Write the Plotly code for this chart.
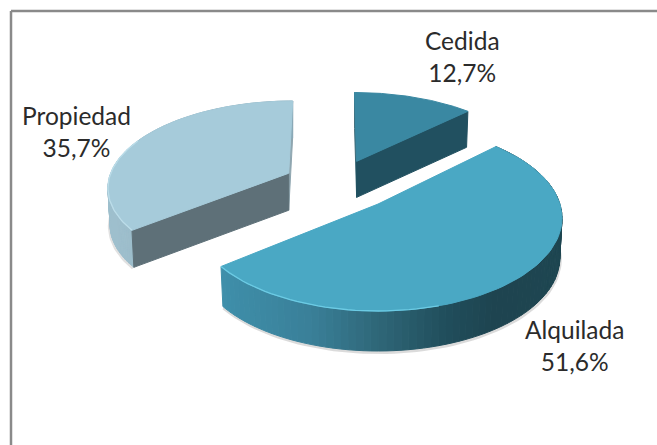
import math
import plotly.graph_objects as go

# ---- data ----
categories = ["Cedida", "Alquilada", "Propiedad"]
shares = [12.7, 51.6, 35.7]

# ---- appearance (per slice, same order as the data) ----
top_colors = ["#3A88A2", "#4AA8C4", "#A6CBDA"]
face_colors = ["#215060", None, "#5E7078"]
wall_stops = [None,
              [(0.0, "#3F8FAA"), (0.25, "#3A8099"), (0.45, "#2F6778"), (0.65, "#214E5C"), (0.8, "#1E4450"), (1.0, "#1F4752")],
              [(0.0, "#9FC0CE"), (1.0, "#8AAAB8")]]
rim_colors = [None, "#6CCBE4", "#BCDDE9"]
ell_cx = [357, 378, 288]
ell_cy = [173.5, 218, 186]
ell_a = [176, 184, 180]
ell_b = [81, 93, 85]
tilt = [-0.15, -0.15, -0.15]     # perspective displacement of the pie centre
lean = [0.03, 0.0, -0.055]
depth = [36, 40, 37]
foot_scale = 0.988
label_pos = [(462, 56), (574, 345), (76, 131)]

W, H = 657, 445
fig = go.Figure()


def hex_rgb(c):
    return tuple(int(c[i:i + 2], 16) for i in (1, 3, 5))


def mix(stops, t):
    t = max(0, min(1, t))
    for (t0, c0), (t1, c1) in zip(stops, stops[1:]):
        if t <= t1:
            f = (t - t0) / (t1 - t0)
            a, b = hex_rgb(c0), hex_rgb(c1)
            return "rgb(%d,%d,%d)" % tuple(a[i] + (b[i] - a[i]) * f for i in range(3))
    return stops[-1][1]


def project(i, r, ang):
    """Angle (clockwise from 12 o'clock) and radius on the pie -> screen."""
    x, y = r * math.sin(ang), -r * math.cos(ang)
    q = tilt[i]
    d = 1 + q * y
    xp = x * math.sqrt(1 - q * q) / d
    yp = (y + q) / d
    sy = ell_cy[i] + ell_b[i] * yp
    sx = ell_cx[i] + ell_a[i] * xp + lean[i] * (sy - ell_cy[i])
    return sx, sy


def foot(i, p):
    return (ell_cx[i] + (p[0] - ell_cx[i]) * foot_scale, p[1] + depth[i])


def poly(pts, fill, line=None, width=1):
    xs = [p[0] for p in pts]
    ys = [p[1] for p in pts]
    fig.add_trace(go.Scatter(x=xs + xs[:1], y=ys + ys[:1], mode="lines", fill="toself",
                             fillcolor=fill, line=dict(color=line or fill, width=width),
                             hoverinfo="skip", showlegend=False))


def stroke(pts, color, width):
    fig.add_trace(go.Scatter(x=[p[0] for p in pts], y=[p[1] for p in pts], mode="lines",
                             line=dict(color=color, width=width), hoverinfo="skip", showlegend=False))


total = sum(shares)
start = 0.0
spans = []
for v in shares:
    end = start + v / total * 2 * math.pi
    spans.append((start, end))
    start = end

N = 90
for i in [2, 0, 1]:
    a0, a1 = spans[i]
    arc = [project(i, 1, a0 + (a1 - a0) * k / N) for k in range(N + 1)]
    apex = project(i, 0, 0)

    # soft shadow under the block
    if wall_stops[i]:
        lowest = [foot(i, p) for p in arc]
        if i == 1:
            stroke([(p[0] + 0.5, p[1] + 1.5) for p in lowest], "rgba(90,90,90,0.22)", 3)
        else:
            stroke([(p[0] - 1, p[1] + 1) for p in lowest[:30]], "rgba(90,90,90,0.18)", 2.5)

    # back-edge sliver on the slices whose edge leans away
    if i == 2:
        e0, e1 = arc[-1], apex
        poly([e0, e1, foot(i, e1), foot(i, e0)], "#8FA6B0")
    if i == 0:
        e0, e1 = arc[0], apex
        poly([e0, e1, foot(i, e1), foot(i, e0)], "#3C6A78")

    # outer wall, coloured by horizontal position
    if wall_stops[i]:
        xmin = min(p[0] for p in arc)
        xmax = max(p[0] for p in arc)
        for k in range(N):
            p, q = arc[k], arc[k + 1]
            t = (min(p[0], q[0]) - xmin) / (xmax - xmin)
            c = mix(wall_stops[i], t)
            poly([p, q, foot(i, q), foot(i, p)], c, c, 1)

    # straight cut faces
    if i == 0:
        poly([apex, arc[-1], foot(i, arc[-1]), foot(i, apex)], face_colors[i])
    if i == 2:
        poly([apex, arc[0], foot(i, arc[0]), foot(i, apex)], face_colors[i])

    # top surface
    poly([apex] + arc, top_colors[i])

    # rim highlight
    if rim_colors[i]:
        pts = [p for p in arc if i != 1 or p[0] < 440]
        if i == 2:
            pts = pts[:45]
        stroke(pts, rim_colors[i], 1.3)

for name, v, (lx, ly) in zip(categories, shares, label_pos):
    fig.add_annotation(x=lx, y=ly, text=f"{name}<br>{v:.1f}".replace(".", ",") + "%", showarrow=False,
                       xanchor="center", yanchor="middle", align="center",
                       font=dict(family="Lato", size=24.5, color="#2B2B2B"))

# chart frame: only the top and left edges are in the crop
fig.add_shape(type="line", x0=11, x1=W, y0=11, y1=11, line=dict(color="#8A8A8A", width=2.5))
fig.add_shape(type="line", x0=11, x1=11, y0=11, y1=H, line=dict(color="#8A8A8A", width=2.5))

fig.update_layout(width=W, height=H, margin=dict(l=0, r=0, t=0, b=0), paper_bgcolor="white",
                  plot_bgcolor="white", showlegend=False,
                  xaxis=dict(range=[0, W], visible=False, fixedrange=True),
                  yaxis=dict(range=[H, 0], visible=False, fixedrange=True))
fig.write_html("out.html", config=dict(displayModeBar=False), include_plotlyjs=True,
               default_width=f"{W}px", default_height=f"{H}px",
               post_script="document.body.style.margin='0';document.body.style.overflow='hidden';")
